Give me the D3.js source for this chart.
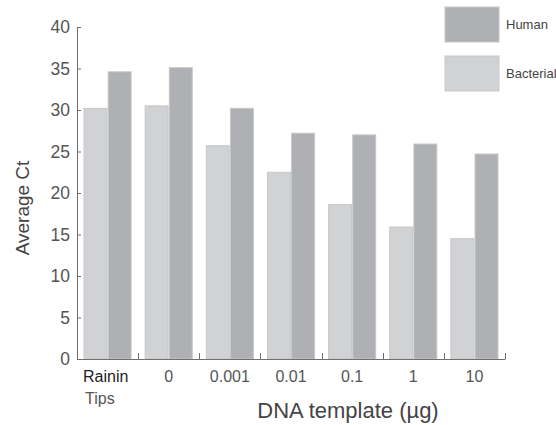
<!DOCTYPE html>
<html>
<head>
<meta charset="utf-8">
<script src="https://cdn.jsdelivr.net/npm/d3@7"></script>
<style>
  body { margin: 0; background: #fff; }
  text { font-family: "Liberation Sans", "DejaVu Sans", sans-serif; }
</style>
</head>
<body>
<div id="chart"></div>
<script>
// chart data
var categories = ["Rainin", "0", "0.001", "0.01", "0.1", "1", "10"];
var series = ["Bacterial", "Human"];
var bacterial = [30.2, 30.5, 25.7, 22.5, 18.6, 15.9, 14.5];
var human = [34.6, 35.1, 30.2, 27.2, 27.0, 25.9, 24.7];
var yTicks = [0, 5, 10, 15, 20, 25, 30, 35, 40];

var svgWidth = 556;
var svgHeight = 425;

var colors = { Bacterial: "#d1d2d4", Human: "#afb0b3" };

var svg = d3.select("#chart")
    .append("svg")
    .attr("width", svgWidth)
    .attr("height", svgHeight);

// scales
var x0 = d3.scaleBand()
    .domain(categories)
    .range([77, 505])
    .paddingInner(0.23)
    .paddingOuter(0.115);

var x1 = d3.scaleBand()
    .domain(series)
    .range([0, x0.bandwidth()])
    .paddingInner(0.05);

var y = d3.scaleLinear()
    .domain([0, 40])
    .range([359, 27]);

var data = categories.map(function(c, i) {
    return { cat: c, values: [ { key: "Bacterial", v: bacterial[i] }, { key: "Human", v: human[i] } ] };
});

// bars
var groups = svg.append("g").selectAll("g")
    .data(data)
    .enter()
    .append("g")
    .attr("transform", d => `translate(${x0(d.cat)},0)`);

groups.selectAll("rect")
    .data(d => d.values)
    .enter()
    .append("rect")
    .attr("x", d => x1(d.key))
    .attr("width", x1.bandwidth())
    .attr("y", d => y(d.v))
    .attr("height", d => y(0) - y(d.v))
    .attr("fill", d => colors[d.key])
    .attr("stroke", "#c6c7c9")
    .attr("stroke-width", 1);

// y axis
var yAxis = d3.axisRight(y).tickValues(yTicks).tickSize(4);
var yg = svg.append("g")
    .attr("transform", "translate(77,0)")
    .call(yAxis);
yg.select(".domain").attr("stroke", "#6f6f6f").attr("d", "M0.5,27V359.5");
yg.selectAll(".tick line").attr("stroke", "#6f6f6f");
yg.selectAll(".tick text")
    .attr("text-anchor", "end")
    .attr("x", -7)
    .attr("fill", "#555")
    .style("font-size", "17.5px");

// x axis: ticks at group boundaries pointing up
var step = x0.step();
var boundaries = categories.map((c, i) => x0.range()[0] + step * (i + 1));
var xg = svg.append("g");
xg.append("line")
    .attr("x1", 77).attr("x2", 505)
    .attr("y1", 359.5).attr("y2", 359.5)
    .attr("stroke", "#6f6f6f");
xg.selectAll(".sep")
    .data(boundaries)
    .enter()
    .append("line")
    .attr("x1", d => Math.round(d) + 0.5).attr("x2", d => Math.round(d) + 0.5)
    .attr("y1", 359.5).attr("y2", 353)
    .attr("stroke", "#6f6f6f");

xg.selectAll(".lbl")
    .data(categories.slice(1))
    .enter()
    .append("text")
    .attr("x", d => x0(d) + x0.bandwidth() / 2)
    .attr("y", 382)
    .attr("text-anchor", "middle")
    .attr("fill", "#555")
    .style("font-size", "16px")
    .text(d => d);

xg.append("text")
    .attr("x", 83).attr("y", 382)
    .attr("fill", "#222")
    .style("font-size", "16px")
    .text("Rainin");
xg.append("text")
    .attr("x", 85).attr("y", 404)
    .attr("fill", "#555")
    .style("font-size", "16px")
    .text("Tips");

// axis titles
svg.append("text")
    .attr("x", 348).attr("y", 418)
    .attr("text-anchor", "middle")
    .attr("fill", "#444")
    .style("font-size", "22px")
    .text("DNA template (µg)");

svg.append("text")
    .attr("transform", "translate(29,208) rotate(-90)")
    .attr("text-anchor", "middle")
    .attr("fill", "#444")
    .style("font-size", "19px")
    .text("Average Ct");

// legend
var legendItems = ["Human", "Bacterial"];
var legend = svg.append("g").selectAll("g")
    .data(legendItems)
    .enter()
    .append("g")
    .attr("transform", (d, i) => `translate(445,${7 + i * 49})`);
legend.append("rect")
    .attr("width", 54).attr("height", 35)
    .attr("fill", d => colors[d])
    .attr("stroke", "#c6c7c9");
legend.append("text")
    .attr("x", 61).attr("y", 22)
    .attr("fill", "#444")
    .style("font-size", "13px")
    .text(d => d);
</script>
</body>
</html>
